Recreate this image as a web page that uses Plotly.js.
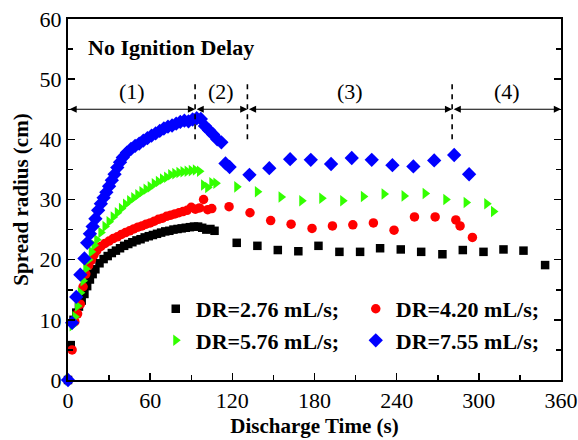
<!DOCTYPE html>
<html>
<head>
<meta charset="utf-8">
<script src="https://cdn.plot.ly/plotly-3.0.1.min.js"></script>
<style>html,body{margin:0;padding:0;background:#fff;}#chart{width:578px;height:440px;}</style>
</head>
<body>
<div id="chart"></div>
<script>
// ---- data ----
const seriesNames = ['DR=2.76 mL/s;', 'DR=4.20 mL/s;', 'DR=5.76 mL/s;', 'DR=7.55 mL/s;'];

const tBlack = [0,2,4,6,8,10,12,14,16,18,20,23,26,29,32,35,38,41,44,47,50,53,56,59,62,65,68,71,74,77,80,83,86,89,92,95,98,101,104,107,
  123.2,138.3,153.2,168.2,182.9,198.2,213.3,227.9,243,257.9,273.4,288.3,303.4,318,332.6,348.4];
const rBlack = [0,5.8,10.0,11.2,12.2,13.2,14.3,15.6,16.7,17.6,18.4,19.4,20.1,20.6,21.1,21.5,21.9,22.3,22.6,22.9,23.2,23.4,23.7,23.9,24.1,24.3,24.5,24.7,24.8,25.0,25.1,25.2,25.3,25.4,25.5,25.5,25.3,25.0,25.1,24.8,
  22.8,22.3,21.6,21.4,22.3,21.3,21.3,21.9,21.7,21.3,20.9,21.6,21.3,21.7,21.5,19.1];

const tRed = [0,3,5,7,9,11,13,15,17,19,21,24,27,30,33,36,39,42,45,48,51,54,57,60,63,66,69,72,75,78,81,84,87,90,93,96,99,102,105,
  117.6,132.9,148,162.9,178.2,193.1,208,223,238.1,253,268.1,283.2,286.3,295.3];
const rRed = [0,5.0,9.7,11.0,12.6,15.5,17.6,19.0,19.9,20.8,21.5,22.2,22.7,23.1,23.5,23.8,24.2,24.5,24.8,25.1,25.4,25.6,25.9,26.1,26.4,26.7,26.9,27.2,27.4,27.6,27.8,28.0,28.2,28.7,28.4,28.6,30.0,28.3,28.5,
  28.8,27.8,26.5,25.9,25.2,25.6,25.8,26.1,24.9,27.1,27.1,26.6,25.6,23.7];

const tGreen = [0,3,5,7,9,11,13,15,17,19,21,24,27,30,33,36,39,42,45,48,51,54,57,60,63,66,69,72,75,78,81,84,87,90,93,96,99,102,105,108,
  123.2,138.3,155.6,170.7,185.3,200.6,215.7,230.8,245.4,260.8,275.9,290.7,305.8,310.7];
const rGreen = [0,9.0,10.5,12.3,14.5,16.5,18.5,20.0,21.3,22.4,23.3,24.5,25.5,26.3,27.1,27.8,28.5,29.2,29.8,30.3,30.8,31.3,31.7,32.1,32.6,33.0,33.4,33.7,34.1,34.3,34.5,34.6,34.7,34.8,34.9,34.7,32.4,32.0,32.8,32.7,
  32.1,31.3,30.4,29.8,30.2,29.8,30.5,30.9,30.6,31.0,30.0,29.5,29.3,28.0];

const tBlue = [0,3,6,9,12,14,16,18,20,22,24,26,28,30,32,34,36,38,40,43,46,49,52,55,58,61,64,67,70,73,76,79,82,85,88,91,94,97,100,103,106,109,112,115,118,
  132.5,147,162.2,177.3,192.1,207.2,221.8,236.9,252.2,267.4,282,292.9];
const rBlue = [0,9.5,13.8,17.5,20.2,22.8,24.3,25.5,26.8,28.2,29.3,30.3,31.2,32.2,33.2,34.2,35.3,36.2,37.0,37.8,38.4,38.9,39.3,39.8,40.2,40.6,41.0,41.4,41.8,42.1,42.3,42.6,42.9,43.1,43.0,43.3,43.5,43.4,42.2,41.5,40.8,40.0,39.5,36.0,35.4,
  34.1,35.2,36.7,36.6,35.9,36.9,36.6,35.7,35.5,36.5,37.4,34.2];

// phase boundaries (s) and labels
const phaseBounds = [0, 92.8, 131, 280.5, 360];
const phaseLabels = ['(1)', '(2)', '(3)', '(4)'];
const phaseArrowY = 45;
const phaseLabelY = 47.9;
const dividerY = [40, 50];
const noteText = 'No Ignition Delay';

const xTicks = [0, 60, 120, 180, 240, 300, 360];
const yTicks = [0, 10, 20, 30, 40, 50, 60];

// ---- build chart ----
const serif = 'Liberation Serif';
const styles = [
  {symbol: 'square', color: '#000000', size: 8.5},
  {symbol: 'circle', color: '#ff0000', size: 9.5},
  {symbol: 'triangle-right', color: '#33ff00', size: 10},
  {symbol: 'diamond', color: '#0000ff', size: 11}
];
const xs = [tBlack, tRed, tGreen, tBlue];
const ys = [rBlack, rRed, rGreen, rBlue];

const traces = xs.map((x, i) => ({
  type: 'scatter', mode: 'markers', x: x, y: ys[i], name: seriesNames[i],
  marker: {symbol: styles[i].symbol, color: styles[i].color, size: styles[i].size, line: {width: 0}},
  cliponaxis: false
}));

const annotations = [];
const shapes = [];
for (let i = 0; i < phaseLabels.length; i++) {
  const a = phaseBounds[i], b = phaseBounds[i + 1];
  annotations.push({
    x: b, y: phaseArrowY, ax: a, ay: phaseArrowY, xref: 'x', yref: 'y', axref: 'x', ayref: 'y',
    text: '', showarrow: true, arrowside: 'end+start', arrowhead: 2, arrowsize: 1.2, arrowwidth: 1.2,
    arrowcolor: '#000', standoff: 0, startstandoff: 0
  });
  annotations.push({
    x: (a + b) / 2, y: phaseLabelY, xref: 'x', yref: 'y', text: phaseLabels[i], showarrow: false,
    font: {family: serif, size: 22, color: '#000'}, yanchor: 'middle'
  });
}
for (let i = 1; i < phaseBounds.length - 1; i++) {
  shapes.push({type: 'line', xref: 'x', yref: 'y', x0: phaseBounds[i], x1: phaseBounds[i],
    y0: dividerY[0], y1: dividerY[1], line: {color: '#000', width: 1.6, dash: '5px,5px'}});
}
annotations.push({
  x: 13.5, y: 55.2, xref: 'x', yref: 'y', text: noteText, showarrow: false, xanchor: 'left', yanchor: 'middle',
  font: {family: serif, size: 22, color: '#000', weight: 'bold'}
});

const layout = {
  width: 578, height: 440,
  margin: {l: 68, r: 17, t: 19, b: 60},
  paper_bgcolor: '#fff', plot_bgcolor: '#fff',
  font: {family: serif, color: '#000'},
  showlegend: true,
  legend: {
    orientation: 'h', x: 0.178, xanchor: 'left', y: 0.255, yanchor: 'top',
    entrywidth: 155, entrywidthmode: 'pixels', bgcolor: 'rgba(0,0,0,0)',
    font: {family: serif, size: 22, color: '#000', weight: 'bold'},
    itemsizing: 'trace', tracegroupgap: 0
  },
  xaxis: {
    range: [0, 360], tickvals: xTicks, ticktext: xTicks.map(String),
    ticks: 'inside', ticklen: 7, tickwidth: 1.5, tickcolor: '#000',
    minor: {dtick: 30, ticks: 'inside', ticklen: 5, tickwidth: 1.5, tickcolor: '#000', showgrid: false},
    showline: true, linewidth: 2, linecolor: '#000', mirror: true, showgrid: false, zeroline: false,
    tickfont: {family: serif, size: 22, color: '#000'},
    title: {text: 'Discharge Time (s)', font: {family: serif, size: 21, color: '#000', weight: 'bold'}, standoff: 6}
  },
  yaxis: {
    range: [0, 60], tickvals: yTicks, ticktext: yTicks.map(String),
    ticks: 'inside', ticklen: 7, tickwidth: 1.5, tickcolor: '#000',
    minor: {dtick: 5, ticks: 'inside', ticklen: 5, tickwidth: 1.5, tickcolor: '#000', showgrid: false},
    showline: true, linewidth: 2, linecolor: '#000', mirror: 'ticks', showgrid: false, zeroline: false,
    tickfont: {family: serif, size: 22, color: '#000'},
    title: {text: 'Spread radius (cm)', font: {family: serif, size: 21, color: '#000', weight: 'bold'}, standoff: 5}
  },
  annotations: annotations,
  shapes: shapes
};

Plotly.newPlot('chart', traces, layout, {displayModeBar: false, staticPlot: true});
</script>
</body>
</html>
